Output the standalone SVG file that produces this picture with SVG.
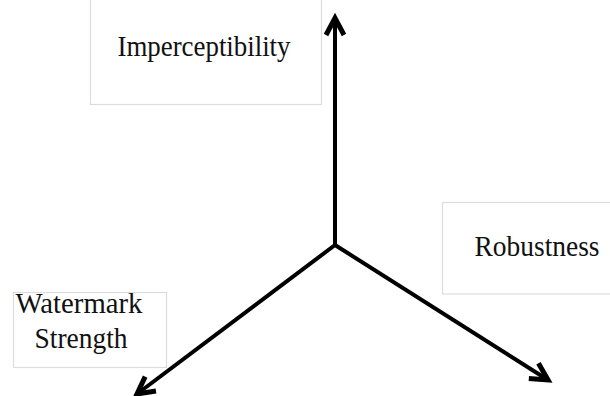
<svg xmlns="http://www.w3.org/2000/svg" width="610" height="396" viewBox="0 0 610 396">
<style>
.box{fill:#fff;stroke:#dcdcdc;stroke-width:1.2}
.lbl{font-family:"Liberation Serif","Times New Roman",serif;font-size:30px;fill:#111;text-anchor:middle}
.axis{stroke:#000;stroke-width:4;fill:none;stroke-linecap:butt}
</style>
<defs>
<marker id="ah" markerUnits="userSpaceOnUse" viewBox="-24 -14 28 28" refX="0" refY="0" markerWidth="28" markerHeight="28" orient="auto" overflow="visible">
<path d="M-17,-9 L0,0 L-17,9" fill="none" stroke="#000" stroke-width="5" stroke-linejoin="miter" stroke-linecap="butt"/>
</marker>
</defs>
<rect width="610" height="396" fill="#fff"/>
<g id="imperceptibility">
<rect class="box" x="90.5" y="-5" width="231" height="109.5"/>
<text class="lbl" x="204" y="56" textLength="173" lengthAdjust="spacingAndGlyphs">Imperceptibility</text>
</g>
<g id="robustness">
<rect class="box" x="442.5" y="202.5" width="180" height="91.5"/>
<text class="lbl" x="537" y="256" textLength="125" lengthAdjust="spacingAndGlyphs">Robustness</text>
</g>
<g id="watermark-strength">
<rect class="box" x="13.5" y="292.5" width="153" height="75"/>
<text class="lbl" x="79" y="313" textLength="127" lengthAdjust="spacingAndGlyphs">Watermark</text>
<text class="lbl" x="81" y="348" textLength="93" lengthAdjust="spacingAndGlyphs">Strength</text>
</g>
<g id="connectors">
<line class="axis" x1="335" y1="245" x2="335" y2="18" marker-end="url(#ah)"/>
<line class="axis" x1="335" y1="245" x2="137" y2="394" marker-end="url(#ah)"/>
<line class="axis" x1="335" y1="245" x2="548" y2="380" marker-end="url(#ah)"/>
</g>
</svg>
